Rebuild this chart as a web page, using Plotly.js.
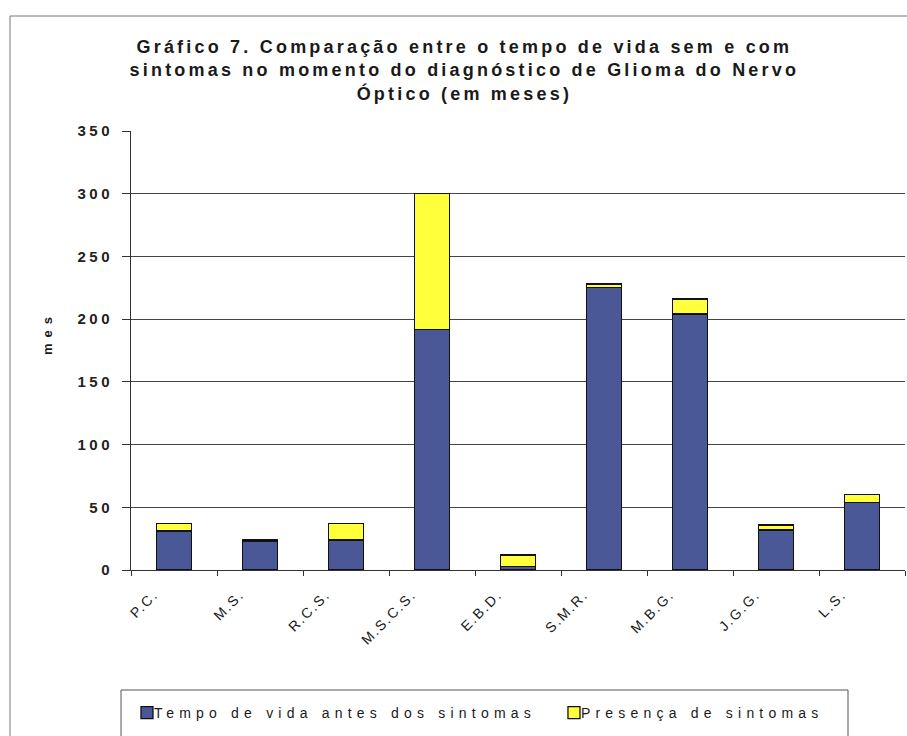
<!DOCTYPE html>
<html>
<head>
<meta charset="utf-8">
<script src="https://cdn.plot.ly/plotly-3.0.1.min.js"></script>
<style>
  html, body { margin: 0; padding: 0; background: #fff; }
  #chart { width: 907px; height: 736px; }
  .gtitle { letter-spacing: 3.2px; }
  .legendtext { letter-spacing: 5.2px; transform: translateX(-13px); }
  .ytick text { letter-spacing: 3.5px; }
  .xtick text { letter-spacing: 1.8px; }
  .annotation-text { letter-spacing: 6px; }
</style>
</head>
<body>
<div id="chart"></div>
<script>
// Data (months)
const patients = ['P.C.', 'M.S.', 'R.C.S.', 'M.S.C.S.', 'E.B.D.', 'S.M.R.', 'M.B.G.', 'J.G.G.', 'L.S.'];
const lifeBeforeSymptoms = [31, 23, 24, 192, 3, 225, 204, 32, 54];
const withSymptoms = [6, 1, 13, 108, 9, 3, 12, 4, 6];
const yTickValues = [0, 50, 100, 150, 200, 250, 300, 350];

const seriesNames = ['Tempo de vida antes dos sintomas', 'Presença de sintomas'];
const titleText = 'Gráfico 7. Comparação entre o tempo de vida sem e com<br>sintomas no momento do diagnóstico de Glioma do Nervo<br>Óptico (em meses)';
const yTitleText = 'mes';

const FONT = 'Arial, "Liberation Sans", Helvetica, sans-serif';
const W = 907, H = 736;

const traces = [
  {
    type: 'bar',
    name: seriesNames[0],
    x: patients,
    y: lifeBeforeSymptoms,
    marker: { color: '#4b5898', line: { color: '#111', width: 1.3 } },
    hoverinfo: 'x+y+name'
  },
  {
    type: 'bar',
    name: seriesNames[1],
    x: patients,
    y: withSymptoms,
    marker: { color: '#ffff3c', line: { color: '#111', width: 1.3 } },
    hoverinfo: 'x+y+name'
  }
];

// plot area in pixels: x 131..905, y 131..570
const L = 131, R = 905, T = 131, B = 570;
const px = v => (v - L) / (R - L);
const py = v => (B - v) / (B - T);

const layout = {
  width: W,
  height: H,
  margin: { l: L, r: W - R, t: T, b: H - B, pad: 0, autoexpand: false },
  paper_bgcolor: '#ffffff',
  plot_bgcolor: '#ffffff',
  barmode: 'stack',
  bargap: 0.59,
  font: { family: FONT, color: '#1a1a1a' },
  title: {
    text: titleText,
    font: { family: FONT, size: 18, weight: 'bold', color: '#1a1a1a' },
    xref: 'container', x: 0.512, xanchor: 'center',
    yref: 'container', y: 1 - 53 / H, yanchor: 'top'
  },
  xaxis: {
    type: 'category',
    showgrid: false,
    showline: true, linecolor: '#333', linewidth: 1,
    ticks: 'outside', tickson: 'boundaries', ticklen: 5, tickcolor: '#333',
    tickangle: -45,
    ticklabelshift: -20,
    ticklabelstandoff: 10,
    tickfont: { family: FONT, size: 14, color: '#1a1a1a' },
    range: [-0.5, 8.5],
    fixedrange: true
  },
  yaxis: {
    range: [0, 350],
    tickvals: yTickValues,
    ticktext: yTickValues.map(String),
    showgrid: true, gridcolor: '#444', gridwidth: 1,
    showline: true, linecolor: '#333', linewidth: 1,
    zeroline: false,
    ticks: 'outside', ticklen: 8, tickcolor: '#333',
    ticklabelstandoff: 6,
    tickfont: { family: FONT, size: 15, weight: 'bold', color: '#222' },
    fixedrange: true
  },
  annotations: [
    { text: yTitleText, xref: 'paper', yref: 'paper', x: px(47), y: py(333),
      xanchor: 'center', yanchor: 'middle', textangle: -90, showarrow: false,
      font: { family: FONT, size: 13, weight: 'bold', color: '#1a1a1a' } }
  ],
  showlegend: true,
  legend: {
    orientation: 'h',
    xref: 'container', yref: 'container',
    x: 127 / W, xanchor: 'left',
    y: 1 - 697 / H, yanchor: 'top',
    bgcolor: 'rgba(0,0,0,0)',
    borderwidth: 0,
    font: { family: FONT, size: 14, color: '#1a1a1a' },
    itemwidth: 30,
    traceorder: 'normal'
  },
  shapes: [
    // outer chart frame
    { type: 'rect', xref: 'paper', yref: 'paper', layer: 'below',
      x0: px(10), x1: px(960), y0: py(16), y1: py(800),
      line: { color: '#777', width: 1 }, fillcolor: 'rgba(0,0,0,0)' },
    // legend frame
    { type: 'rect', xref: 'paper', yref: 'paper', layer: 'below',
      x0: px(121), x1: px(848), y0: py(690), y1: py(760),
      line: { color: '#555', width: 1 }, fillcolor: 'rgba(0,0,0,0)' }
  ]
};

Plotly.newPlot('chart', traces, layout, { displayModeBar: false, staticPlot: true });
</script>
</body>
</html>
